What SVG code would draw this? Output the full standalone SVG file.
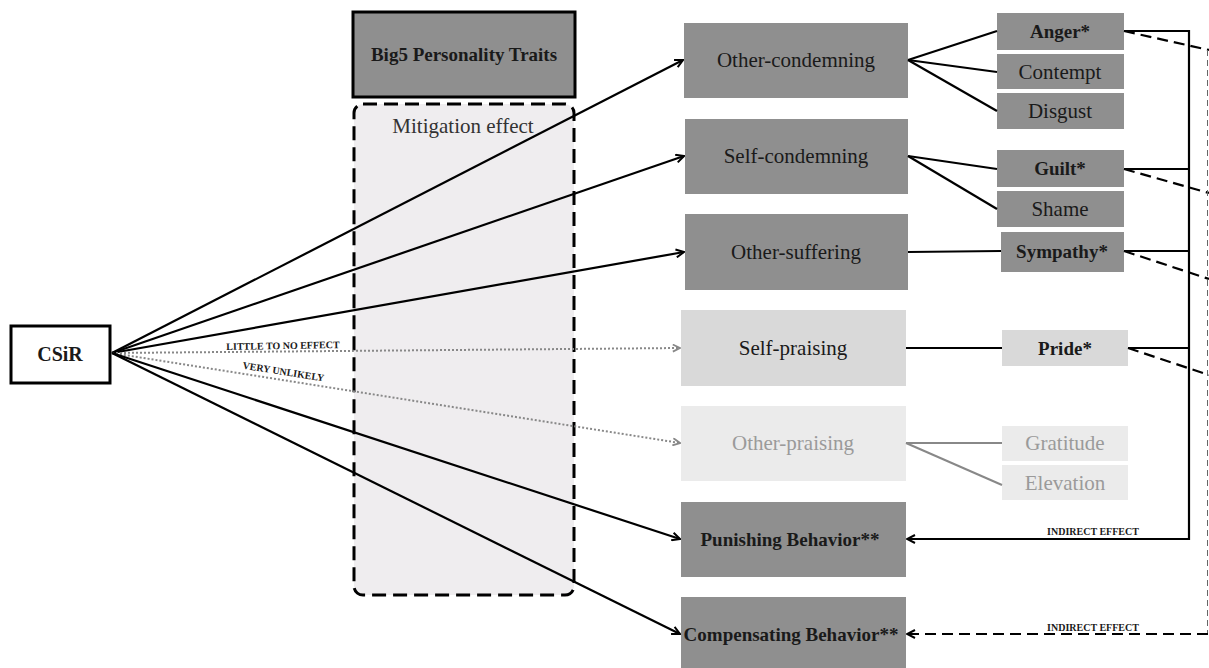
<svg xmlns="http://www.w3.org/2000/svg" width="1209" height="668" viewBox="0 0 1209 668">
<defs>
<marker id="ah" viewBox="0 0 10 10" refX="9" refY="5" markerWidth="10" markerHeight="10" markerUnits="userSpaceOnUse" orient="auto">
<path d="M1,1 L9,5 L1,9" fill="none" stroke="#000" stroke-width="2"/>
</marker>
<marker id="ahg" viewBox="0 0 10 10" refX="9" refY="5" markerWidth="9" markerHeight="9" markerUnits="userSpaceOnUse" orient="auto">
<path d="M1,1 L9,5 L1,9" fill="none" stroke="#888" stroke-width="2"/>
</marker>
</defs>
<style>
text{font-family:"Liberation Serif","DejaVu Serif",serif;fill:#1a1a1a;text-anchor:middle}
.r{font-size:21px}
.b{font-size:19px;font-weight:bold}
.sm{font-size:10px;font-weight:bold}
.dk{fill:#8f8f8f}
.lt{fill:#d9d9d9}
.xl{fill:#ebebeb}
.gt{fill:#9a9a9a}
.ln{stroke:#000;stroke-width:2.2;fill:none}
.dot{stroke:#888;stroke-width:2;stroke-dasharray:2 2;fill:none}
.dash{stroke:#000;stroke-width:2.2;stroke-dasharray:11 6;fill:none}
</style>
<rect width="1209" height="668" fill="#fff"/>

<g id="big5">
<rect x="353" y="12" width="222" height="85" fill="#8f8f8f" stroke="#000" stroke-width="3"/>
<text class="b" x="464" y="61">Big5 Personality Traits</text>
</g>
<g id="mitigation">
<rect x="354" y="104" width="220" height="491" rx="9" fill="#efedef" stroke="#000" stroke-width="3" stroke-dasharray="14 7"/>
<text class="r" x="463" y="133" style="fill:#333">Mitigation effect</text>
</g>

<g id="csir">
<rect x="11" y="326" width="99" height="57" fill="#fff" stroke="#000" stroke-width="3"/>
<text class="b" x="60" y="361" style="font-size:20px">CSiR</text>
</g>

<g id="other-condemning"><rect class="dk" x="684" y="23" width="224" height="75"/><text class="r" x="796" y="67">Other-condemning</text></g>
<g id="self-condemning"><rect class="dk" x="685" y="119" width="223" height="75"/><text class="r" x="796" y="163">Self-condemning</text></g>
<g id="other-suffering"><rect class="dk" x="685" y="214" width="223" height="76"/><text class="r" x="796" y="259">Other-suffering</text></g>
<g id="self-praising"><rect class="lt" x="681" y="310" width="225" height="76"/><text class="r" x="793" y="355">Self-praising</text></g>
<g id="other-praising"><rect class="xl" x="681" y="406" width="225" height="75"/><text class="r gt" x="793" y="450">Other-praising</text></g>
<g id="punishing"><rect class="dk" x="681" y="502" width="225" height="75"/><text class="b" x="790" y="546">Punishing Behavior**</text></g>
<g id="compensating"><rect class="dk" x="681" y="597" width="225" height="75"/><text class="b" x="791" y="641">Compensating Behavior**</text></g>

<g id="anger"><rect class="dk" x="997" y="13" width="127" height="37"/><text class="b" x="1060" y="38">Anger*</text></g>
<g id="contempt"><rect class="dk" x="997" y="54" width="127" height="35"/><text class="r" x="1060" y="79">Contempt</text></g>
<g id="disgust"><rect class="dk" x="997" y="93" width="127" height="36"/><text class="r" x="1060" y="118">Disgust</text></g>
<g id="guilt"><rect class="dk" x="997" y="150" width="127" height="37"/><text class="b" x="1060" y="175">Guilt*</text></g>
<g id="shame"><rect class="dk" x="997" y="191" width="127" height="36"/><text class="r" x="1060" y="216">Shame</text></g>
<g id="sympathy"><rect class="dk" x="1001" y="232" width="123" height="40"/><text class="b" x="1062" y="258">Sympathy*</text></g>
<g id="pride"><rect class="lt" x="1002" y="330" width="126" height="36"/><text class="b" x="1065" y="355">Pride*</text></g>
<g id="gratitude"><rect class="xl" x="1002" y="426" width="126" height="35"/><text class="r gt" x="1065" y="450">Gratitude</text></g>
<g id="elevation"><rect class="xl" x="1002" y="465" width="126" height="35"/><text class="r gt" x="1065" y="490">Elevation</text></g>

<g id="connectors">
<line class="ln" x1="112" y1="353" x2="683" y2="60" marker-end="url(#ah)"/>
<line class="ln" x1="112" y1="353" x2="684" y2="156" marker-end="url(#ah)"/>
<line class="ln" x1="112" y1="353" x2="684" y2="252" marker-end="url(#ah)"/>
<line class="dot" x1="112" y1="353" x2="680" y2="348" marker-end="url(#ahg)"/>
<line class="dot" x1="112" y1="353" x2="680" y2="443" marker-end="url(#ahg)"/>
<line class="ln" x1="112" y1="353" x2="680" y2="539" marker-end="url(#ah)"/>
<line class="ln" x1="112" y1="353" x2="680" y2="634" marker-end="url(#ah)"/>

<line class="ln" x1="908" y1="60" x2="997" y2="31"/>
<line class="ln" x1="908" y1="60" x2="997" y2="72"/>
<line class="ln" x1="908" y1="60" x2="997" y2="111"/>
<line class="ln" x1="908" y1="156" x2="997" y2="169"/>
<line class="ln" x1="908" y1="156" x2="997" y2="209"/>
<line class="ln" x1="908" y1="252" x2="1001" y2="251"/>
<line class="ln" x1="906" y1="348" x2="1002" y2="348"/>
<line x1="906" y1="443" x2="1002" y2="443" stroke="#888" stroke-width="2"/>
<line x1="906" y1="443" x2="1002" y2="485" stroke="#888" stroke-width="2"/>

<path class="ln" d="M1124,31 H1189 V539 H907" marker-end="url(#ah)"/>
<line class="ln" x1="1124" y1="169" x2="1189" y2="169"/>
<line class="ln" x1="1124" y1="251" x2="1189" y2="251"/>
<line class="ln" x1="1128" y1="348" x2="1189" y2="348"/>

<line class="dash" x1="1124" y1="31" x2="1209" y2="50"/>
<line class="dash" x1="1124" y1="169" x2="1209" y2="193"/>
<line class="dash" x1="1124" y1="251" x2="1209" y2="279"/>
<line class="dash" x1="1128" y1="348" x2="1209" y2="375"/>
<line x1="1207.5" y1="50" x2="1207.5" y2="634" stroke="#666" stroke-width="1" stroke-dasharray="6 4"/>
<line class="dash" x1="1208" y1="634" x2="907" y2="634" marker-end="url(#ah)"/>

<text class="sm" x="283" y="349" transform="rotate(-1 283 349)">LITTLE TO NO EFFECT</text>
<text class="sm" x="283" y="375" transform="rotate(9 283 375)">VERY UNLIKELY</text>
<text class="sm" x="1093" y="535">INDIRECT EFFECT</text>
<text class="sm" x="1093" y="631">INDIRECT EFFECT</text>
</g>
</svg>
